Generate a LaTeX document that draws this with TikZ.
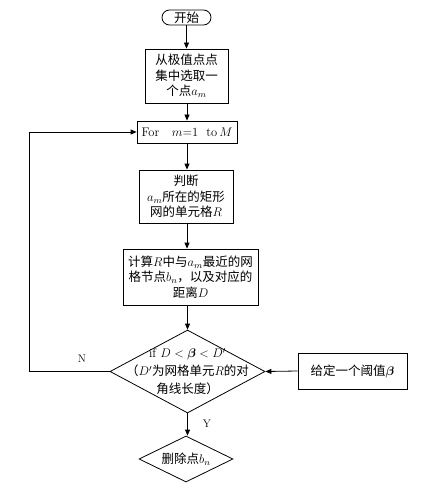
\RequirePackage{fix-cm}
\documentclass[tikz,border=0pt]{standalone}
\usepackage{amsmath}
\usepackage{fontspec}
\newfontfamily\cjk{Noto Sans CJK SC}
\usetikzlibrary{shapes.geometric,arrows.meta}
\begin{document}
\begin{tikzpicture}[x=1pt,y=-1pt,
  txt/.style={font=\cjk\fontsize{12.5}{15.5}\selectfont, align=center, inner sep=0pt},
  box/.style={draw, line width=0.8pt, txt},
  dia/.style={draw, line width=0.8pt, diamond, inner sep=0pt},
  arr/.style={line width=0.8pt, -{Triangle[length=6pt,width=5pt]}},
  lbl/.style={font=\rmfamily\fontsize{11}{13}\selectfont, inner sep=0pt}]
\useasboundingbox (0,0) rectangle (422,497);
\fill[white] (0,0) rectangle (422,497);
\node[box, rounded corners=7.5pt, minimum width=49pt, minimum height=15pt] (start) at (186.5,17.5) {开始};
\node[box, minimum width=83pt, minimum height=54pt] (sel) at (186.5,76) {从极值点点\\集中选取一\\个点$a_m$};
\node[box, minimum width=100pt, minimum height=22pt] (for) at (187,132) {\rmfamily For\quad $m$=1\ \ to\,$M$};
\node[box, minimum width=94pt, minimum height=53pt] (judge) at (186,196.5) {判断\\$a_m$所在的矩形\\网的单元格$R$};
\node[box, minimum width=135pt, minimum height=56pt] (comp) at (190.5,277) {计算$R$中与$a_m$最近的网\\格节点$b_n$，以及对应的\\距离$D$};
\node[dia, minimum width=155pt, minimum height=83pt] (cond) at (187.5,371.5) {};
\node[txt, font=\cjk\fontsize{12.5}{18}\selectfont] (condt) at (cond) {\rmfamily if $D<\boldsymbol{\beta}<D'$\\（$D'$为网格单元$R$的对\\角线长度）};
\node[box, minimum width=109pt, minimum height=36pt] (thr) at (352.5,371) {给定一个阈值$\boldsymbol{\beta}$};
\node[dia, minimum width=94pt, minimum height=46pt] (del) at (186,459) {};
\node[txt] (delt) at (del) {删除点$b_n$};
\coordinate (lb) at (29,371.5);
\coordinate (lt) at (29,132);
\node[lbl] (nlab) at (82,359) {N};
\node[lbl] (ylab) at (207,424) {Y};
\draw[arr] (start) -- (sel);
\draw[arr] (sel.south -| for.north) -- (for);
\draw[arr] (for) -- (judge.north -| for.south);
\draw[arr] (judge.south -| for.south) -- (comp.north -| for.south);
\draw[arr] (comp.south -| cond.north) -- (cond.north);
\draw[arr] (cond.south) -- (del.north -| cond.south);
\draw[arr] (thr.west) -- (cond.east);
\draw[arr] (cond.west) -- (lb) -- (lt) -- (for.west);
\end{tikzpicture}
\end{document}
